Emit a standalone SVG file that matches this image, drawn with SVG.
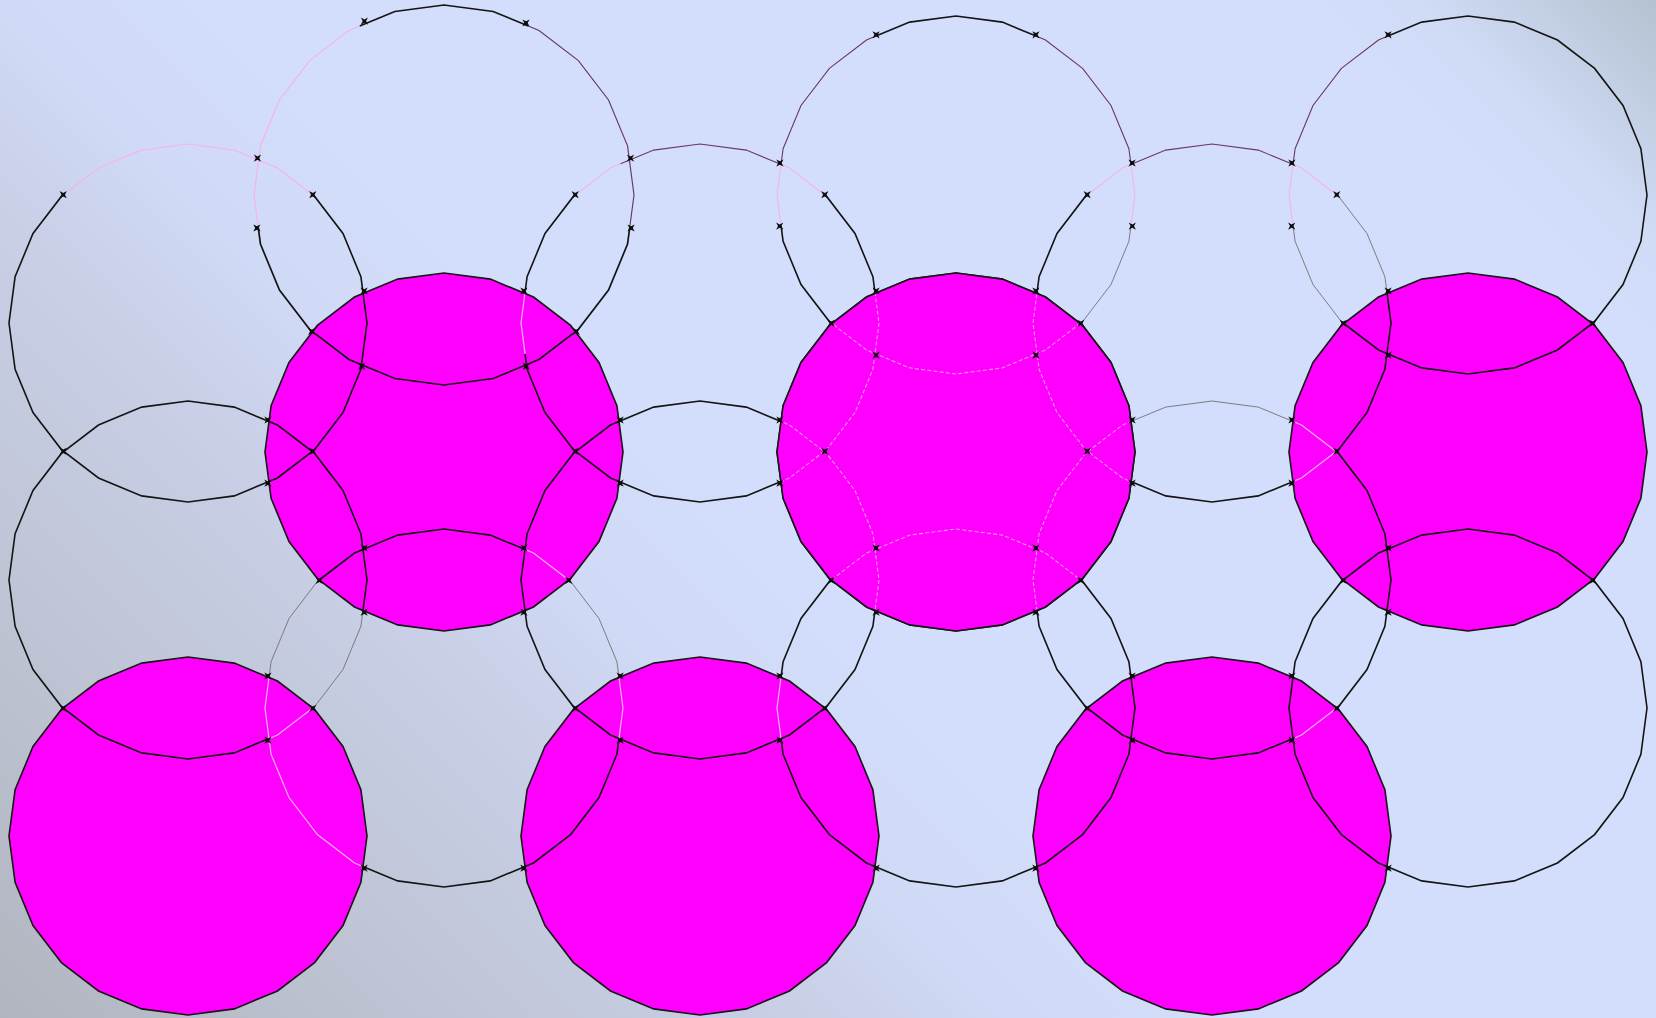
<svg xmlns="http://www.w3.org/2000/svg" width="1656" height="1018" viewBox="0 0 1656 1018">
<defs>
<style>
.k{fill:none;stroke:#141414;stroke-width:1.6}
.p{fill:none;stroke:#f4b4ee;stroke-width:1.2}
.d{fill:none;stroke:#6a3a5e;stroke-width:1.1}
.g{fill:none;stroke:#727272;stroke-width:0.9}
.m{fill:#ff00ff;stroke:none}
.q{fill:none;stroke:#f890f4;stroke-width:1.1;stroke-dasharray:1.3 0.7}
.mk{fill:#0c0c0c}
</style>
<linearGradient id="bg" gradientUnits="userSpaceOnUse" x1="0" y1="1018" x2="1337" y2="-319">
<stop offset="0" stop-color="#b1b5bf"/>
<stop offset="0.19" stop-color="#c1c7d8"/>
<stop offset="0.31" stop-color="#c9d0e8"/>
<stop offset="0.38" stop-color="#d0daf6"/>
<stop offset="0.47" stop-color="#d3defc"/>
<stop offset="0.86" stop-color="#d3defc"/>
<stop offset="0.91" stop-color="#d0dbf6"/>
<stop offset="1" stop-color="#b4c2d0"/>
</linearGradient>
<path id="p" pathLength="360" d="M179 0L172.9 46.3L155 89.5L126.6 126.6L89.5 155L46.3 172.9L0 179L-46.3 172.9L-89.5 155L-126.6 126.6L-155 89.5L-172.9 46.3L-179 0L-172.9 -46.3L-155 -89.5L-126.6 -126.6L-89.5 -155L-46.3 -172.9L0 -179L46.3 -172.9L89.5 -155L126.6 -126.6L155 -89.5L172.9 -46.3Z"/>
<path id="mk" class="mk" d="M-3.6 -3.6L0 -1.7L3.6 -3.6L1.7 0L3.6 3.6L0 1.7L-3.6 3.6L-1.7 0Z"/>
<clipPath id="cC2"><use href="#p" transform="translate(956 452)"/></clipPath>
</defs>
<rect width="1656" height="1018" fill="url(#bg)"/>
<g id="fills">
<use href="#p" class="m" transform="translate(444 452)"/>
<use href="#p" class="m" transform="translate(956 452)"/>
<use href="#p" class="m" transform="translate(1468 452)"/>
<use href="#p" class="m" transform="translate(188 836)"/>
<use href="#p" class="m" transform="translate(700 836)"/>
<use href="#p" class="m" transform="translate(1212 836)"/>
</g>
<g id="outlines">
<g id="A1" transform="translate(444 195) scale(1.0615)">
<use href="#p" class="k" style="stroke-dasharray:0 10 160 73.5 53 63.5"/>
<use href="#p" class="d" style="stroke-dasharray:10 286.5 63.5"/>
<use href="#p" class="p" style="stroke-dasharray:0 170 73.5 116.5"/>
</g>
<g id="A2" transform="translate(956 195)">
<use href="#p" class="k" style="stroke-dasharray:0 46 124 73.5 53 63.5"/>
<use href="#p" class="g" style="stroke-dasharray:0 10 36 314"/>
<use href="#p" class="p" style="stroke-dasharray:10 160 20 160 10"/>
<use href="#p" class="d" style="stroke-dasharray:0 190 53.5 53 53.5 10"/>
</g>
<g id="A3" transform="translate(1468 195)">
<use href="#p" class="k" style="stroke-dasharray:134 109.5 116.5"/>
<use href="#p" class="g" style="stroke-dasharray:0 134 36 190"/>
<use href="#p" class="p" style="stroke-dasharray:0 170 20 170"/>
<use href="#p" class="d" style="stroke-dasharray:0 190 53.5 116.5"/>
</g>
<g id="B1" transform="translate(188 323)">
<use href="#p" class="k" style="stroke-dasharray:226 88 46"/>
<use href="#p" class="p" style="stroke-dasharray:0 226 88 46"/>
</g>
<g id="B2" transform="translate(700 323)">
<use href="#p" class="k" style="stroke-dasharray:170 20 36 88 46"/>
<use href="#p" class="p" style="stroke-dasharray:0 170 20 36 17.5 53 17.5 46"/>
<use href="#p" class="d" style="stroke-dasharray:0 243.5 53 63.5"/>
</g>
<g id="B3" transform="translate(1212 323)">
<use href="#p" class="k" style="stroke-dasharray:46 17.5 162.5 124 10"/>
<use href="#p" class="p" style="stroke-dasharray:0 46 17.5 162.5 17.5 53 17.5 46"/>
<use href="#p" class="d" style="stroke-dasharray:0 243.5 53 63.5"/>
<use href="#p" class="g" style="stroke-dasharray:0 314 36 10"/>
</g>
<g id="C1" transform="translate(444 452)"><use href="#p" class="k"/></g>
<g id="C2" transform="translate(956 452)"><use href="#p" class="k"/></g>
<g id="C3" transform="translate(1468 452)"><use href="#p" class="k"/></g>
<g id="D1" transform="translate(188 580)">
<use href="#p" class="k" style="stroke-dasharray:10 53.5 296.5"/>
<use href="#p" class="g" style="stroke-dasharray:0 10 36 314"/>
<use href="#p" class="p" style="stroke-dasharray:0 46 17.5 296.5"/>
</g>
<g id="D2" transform="translate(700 580)"><use href="#p" class="k"/></g>
<g id="D3" transform="translate(1212 580)">
<use href="#p" class="k" style="stroke-dasharray:46 17.5 162.5 88 46"/>
<use href="#p" class="p" style="stroke-dasharray:0 46 17.5 162.5 17.5 53 17.5 46"/>
<use href="#p" class="g" style="stroke-dasharray:0 243.5 53 63.5"/>
</g>
<g id="E1" transform="translate(444 708)">
<use href="#p" class="k" style="stroke-dasharray:0 10 106.5 109.5 70.5 63.5"/>
<use href="#p" class="p" style="stroke-dasharray:10 106.5 73.5 106.5 17.5 36 10"/>
<use href="#p" class="g" style="stroke-dasharray:0 190 36 88 36 10"/>
</g>
<g id="E2" transform="translate(956 708)">
<use href="#p" class="k" style="stroke-dasharray:170 20 170"/>
<use href="#p" class="p" style="stroke-dasharray:0 170 20 170"/>
</g>
<g id="E3" transform="translate(1468 708)"><use href="#p" class="k"/></g>
<g id="F1" transform="translate(188 836)"><use href="#p" class="k"/></g>
<g id="F2" transform="translate(700 836)"><use href="#p" class="k"/></g>
<g id="F3" transform="translate(1212 836)"><use href="#p" class="k"/></g>
</g>
<g id="C2-inner">
<use href="#p" class="m" transform="translate(956 452)"/>
<g clip-path="url(#cC2)">
<use href="#p" class="q" transform="translate(956 195)"/>
<use href="#p" class="q" transform="translate(700 323)"/>
<use href="#p" class="q" transform="translate(1212 323)"/>
<use href="#p" class="q" transform="translate(700 580)"/>
<use href="#p" class="q" transform="translate(1212 580)"/>
<use href="#p" class="q" transform="translate(956 708)"/>
</g>
<use href="#p" class="k" transform="translate(956 452)"/>
</g>
<g id="vertices">
<use href="#mk" x="257.5" y="158.1"/><use href="#mk" x="361.7" y="366.3"/><use href="#mk" x="630.5" y="158.1"/><use href="#mk" x="526.3" y="366.3"/>
<use href="#mk" x="779.9" y="163"/><use href="#mk" x="876.1" y="355.2"/><use href="#mk" x="1132.1" y="163"/><use href="#mk" x="1035.9" y="355.2"/><use href="#mk" x="1291.9" y="163"/><use href="#mk" x="1388.1" y="355.2"/>
<use href="#mk" x="364.1" y="291"/><use href="#mk" x="267.9" y="483.2"/><use href="#mk" x="523.9" y="291"/><use href="#mk" x="620.1" y="483.2"/><use href="#mk" x="876.1" y="291"/><use href="#mk" x="779.9" y="483.2"/><use href="#mk" x="1035.9" y="291"/><use href="#mk" x="1132.1" y="483.2"/><use href="#mk" x="1388.1" y="291"/><use href="#mk" x="1291.9" y="483.2"/>
<use href="#mk" x="267.9" y="420"/><use href="#mk" x="364.1" y="612.2"/><use href="#mk" x="620.1" y="420"/><use href="#mk" x="523.9" y="612.2"/><use href="#mk" x="779.9" y="420"/><use href="#mk" x="876.1" y="612.2"/><use href="#mk" x="1132.1" y="420"/><use href="#mk" x="1035.9" y="612.2"/><use href="#mk" x="1291.9" y="420"/><use href="#mk" x="1388.1" y="612.2"/>
<use href="#mk" x="364.1" y="548"/><use href="#mk" x="267.9" y="740.2"/><use href="#mk" x="523.9" y="548"/><use href="#mk" x="620.1" y="740.2"/><use href="#mk" x="876.1" y="548"/><use href="#mk" x="779.9" y="740.2"/><use href="#mk" x="1035.9" y="548"/><use href="#mk" x="1132.1" y="740.2"/><use href="#mk" x="1388.1" y="548"/><use href="#mk" x="1291.9" y="740.2"/>
<use href="#mk" x="267.9" y="676"/><use href="#mk" x="364.1" y="868.2"/><use href="#mk" x="620.1" y="676"/><use href="#mk" x="523.9" y="868.2"/><use href="#mk" x="779.9" y="676"/><use href="#mk" x="876.1" y="868.2"/><use href="#mk" x="1132.1" y="676"/><use href="#mk" x="1035.9" y="868.2"/><use href="#mk" x="1291.9" y="676"/><use href="#mk" x="1388.1" y="868.2"/>
<use href="#mk" x="311.7" y="331.4"/><use href="#mk" x="576.3" y="331.4"/><use href="#mk" x="831.2" y="323.3"/><use href="#mk" x="1080.8" y="323.3"/><use href="#mk" x="1343.2" y="323.3"/><use href="#mk" x="1592.8" y="323.3"/>
<use href="#mk" x="63.2" y="451.3"/><use href="#mk" x="312.8" y="451.3"/><use href="#mk" x="575.2" y="451.3"/><use href="#mk" x="824.8" y="451.3"/><use href="#mk" x="1087.2" y="451.3"/><use href="#mk" x="1336.8" y="451.3"/>
<use href="#mk" x="319.2" y="580.3"/><use href="#mk" x="568.8" y="580.3"/><use href="#mk" x="831.2" y="580.3"/><use href="#mk" x="1080.8" y="580.3"/><use href="#mk" x="1343.2" y="580.3"/><use href="#mk" x="1592.8" y="580.3"/>
<use href="#mk" x="63.2" y="708.3"/><use href="#mk" x="312.8" y="708.3"/><use href="#mk" x="575.2" y="708.3"/><use href="#mk" x="824.8" y="708.3"/><use href="#mk" x="1087.2" y="708.3"/><use href="#mk" x="1336.8" y="708.3"/>
<use href="#mk" x="364.4" y="21.1"/><use href="#mk" x="526" y="23"/><use href="#mk" x="876.1" y="34.8"/><use href="#mk" x="1035.9" y="34.8"/><use href="#mk" x="1388.1" y="34.8"/>
<use href="#mk" x="256.9" y="228"/><use href="#mk" x="631.1" y="228"/><use href="#mk" x="779.7" y="226.1"/><use href="#mk" x="1132.3" y="226.1"/><use href="#mk" x="1291.7" y="226.1"/>
<use href="#mk" x="63.2" y="194.7"/><use href="#mk" x="312.8" y="194.7"/><use href="#mk" x="575.2" y="194.7"/><use href="#mk" x="824.8" y="194.7"/><use href="#mk" x="1087.2" y="194.7"/><use href="#mk" x="1336.8" y="194.7"/>
</g>
</svg>
